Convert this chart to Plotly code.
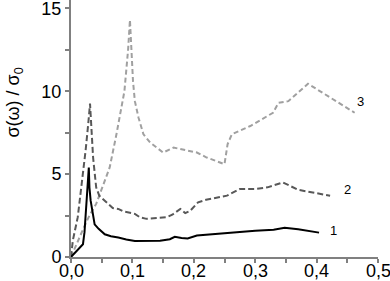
import plotly.graph_objects as go

# Curve 1 (black solid)
x1 = [0, 0.005, 0.012, 0.0195, 0.022, 0.025, 0.027, 0.029, 0.030, 0.032, 0.0385, 0.045, 0.055, 0.065, 0.077, 0.09,
      0.104, 0.125, 0.145, 0.161, 0.169, 0.18, 0.19, 0.205, 0.22, 0.256, 0.278, 0.30, 0.33, 0.348, 0.37, 0.404]
y1 = [0, 0.2, 0.45, 0.77, 1.5, 3.0, 4.5, 5.4, 4.2, 3.4, 1.97, 1.7, 1.37, 1.25, 1.17, 1.05,
      0.97, 0.97, 0.98, 1.07, 1.22, 1.15, 1.12, 1.3, 1.35, 1.47, 1.55, 1.58, 1.65, 1.77, 1.68, 1.47]

# Curve 2 (dark grey dashed)
x2 = [0, 0.003, 0.011, 0.0195, 0.024, 0.028, 0.030, 0.031, 0.036, 0.041, 0.046, 0.055, 0.068, 0.077, 0.085,
      0.104, 0.112, 0.123, 0.135, 0.145, 0.156, 0.165, 0.178, 0.186, 0.194, 0.207, 0.22, 0.254, 0.275, 0.30,
      0.32, 0.345, 0.37, 0.40, 0.422]
y2 = [0, 1.0, 2.4, 5.0, 6.5, 8.0, 9.0, 9.25, 6.0, 4.2, 3.7, 3.4, 2.95, 2.9, 2.75,
      2.6, 2.4, 2.3, 2.35, 2.38, 2.4, 2.55, 2.9, 2.65, 2.78, 3.3, 3.45, 3.7, 4.1, 4.1,
      4.2, 4.5, 4.05, 3.85, 3.69]

# Curve 3 (light grey dashed)
x3 = [0, 0.01, 0.02, 0.03, 0.041, 0.049, 0.063, 0.074, 0.087, 0.093, 0.096, 0.101, 0.104, 0.11, 0.118,
      0.129, 0.140, 0.150, 0.167, 0.180, 0.194, 0.205, 0.221, 0.245, 0.250, 0.255, 0.262, 0.292, 0.329,
      0.338, 0.354, 0.386, 0.422, 0.462]
y3 = [0, 0.9, 1.7, 2.5, 3.2, 4.0, 5.4, 7.4, 10.0, 12.5, 14.3, 10.6, 9.4, 8.4, 7.4,
      6.9, 6.6, 6.3, 6.6, 6.5, 6.4, 6.3, 6.0, 5.7, 5.6, 6.8, 7.4, 7.9, 8.7,
      9.3, 9.4, 10.45, 9.6, 8.7]

x_ticks = [0, 0.1, 0.2, 0.3, 0.4, 0.5]
x_ticktext = ["0,0", "0,1", "0,2", "0,3", "0,4", "0,5"]
y_ticks = [0, 5, 10, 15]
y_ticktext = ["0", "5", "10", "15"]

curve_labels = ["1", "2", "3"]
label_x = [0.427, 0.451, 0.472]
label_y = [1.57, 4.1, 9.4]

FONT = "Liberation Sans, Arial, sans-serif"

fig = go.Figure()
fig.add_trace(go.Scatter(x=x3, y=y3, mode="lines",
                         line=dict(color="#a0a0a0", width=2, dash="5px,3px")))
fig.add_trace(go.Scatter(x=x2, y=y2, mode="lines",
                         line=dict(color="#585858", width=2, dash="6px,3px")))
fig.add_trace(go.Scatter(x=x1, y=y1, mode="lines",
                         line=dict(color="#000000", width=2)))

for t, lx, ly in zip(curve_labels, label_x, label_y):
    fig.add_annotation(x=lx, y=ly, text=t, showarrow=False,
                       font=dict(family=FONT, size=13, color="black"))

# x tick labels placed just under the axis (tighter than Plotly's default spacing)
for v, t in zip(x_ticks, x_ticktext):
    fig.add_annotation(x=v, xref="x", y=0, yref="paper", yanchor="top", yshift=-2,
                       text=t, showarrow=False, font=dict(family=FONT, size=18, color="black"))

fig.add_annotation(xref="paper", yref="paper", x=-0.183, y=0.6, xanchor="center", yanchor="middle",
                   text="σ(ω) / σ<sub>0</sub>", textangle=-90, showarrow=False,
                   font=dict(family=FONT, size=18, color="black"))

axis_common = dict(showgrid=False, zeroline=False, showline=True, linecolor="#808080", linewidth=2,
                   ticks="outside", ticklen=4, tickwidth=1.5, tickcolor="#808080", automargin=False,
                   ticklabeloverflow="allow",
                   tickfont=dict(family=FONT, size=18, color="black"))

fig.update_layout(
    width=390, height=281,
    margin=dict(l=71, r=12, t=0, b=24),
    paper_bgcolor="white", plot_bgcolor="white",
    showlegend=False,
    xaxis=dict(range=[0, 0.5], tickvals=x_ticks, showticklabels=False,
               minor=dict(dtick=0.05, tick0=0, ticks="outside", ticklen=4, tickcolor="#808080", tickwidth=1.5),
               **axis_common),
    yaxis=dict(range=[0, 15.5], tickvals=y_ticks, ticktext=y_ticktext,
               minor=dict(dtick=2.5, tick0=0, ticks="outside", ticklen=4, tickcolor="#808080", tickwidth=1.5),
               **axis_common),
)

fig.write_html("out.html", config={"displayModeBar": False},
               post_script="document.body.style.margin='0';document.body.style.padding='0';")
